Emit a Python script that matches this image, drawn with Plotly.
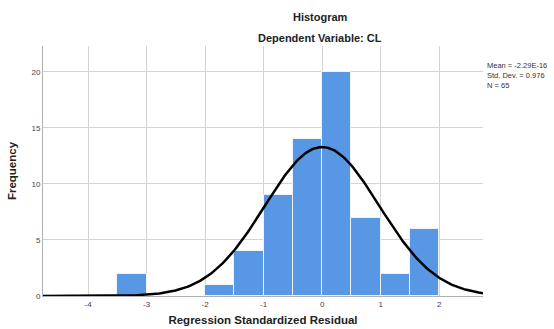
import numpy as np
import plotly.graph_objects as go

# Histogram bins (lower edges) and frequencies
bin_lefts = [-3.5, -2.0, -1.5, -1.0, -0.5, 0.0, 0.5, 1.0, 1.5]
freqs = [2, 1, 4, 9, 14, 20, 7, 2, 6]
bin_width = 0.5

# Summary statistics shown on the chart
mean = -2.29e-16
std = 0.976
n = 65

x_ticks = [-4, -3, -2, -1, 0, 1, 2]
y_ticks = [0, 5, 10, 15, 20]

centers = [b + bin_width / 2 for b in bin_lefts]

# Normal curve overlay scaled to counts (as drawn by SPSS)
xs = np.linspace(-4.77, 2.75, 300)
ys = n * bin_width * np.exp(-0.5 * ((xs - mean) / std) ** 2) / (std * np.sqrt(2 * np.pi))

fig = go.Figure()
fig.add_trace(go.Bar(
    x=centers, y=freqs, width=bin_width,
    marker=dict(color="#5897e4", line=dict(color="#eef3fb", width=1)),
    hoverinfo="skip",
))
fig.add_trace(go.Scatter(
    x=xs, y=ys, mode="lines",
    line=dict(color="black", width=2.5),
    hoverinfo="skip",
))

font = "Liberation Sans, Arial, sans-serif"
fig.update_layout(
    width=554, height=329,
    margin=dict(l=43, r=71, t=46, b=33, autoexpand=False),
    paper_bgcolor="white", plot_bgcolor="white",
    showlegend=False,
    bargap=0,
    font=dict(family=font, color="#333333"),
    xaxis=dict(
        range=[-4.77, 2.75], tickvals=x_ticks, ticktext=[str(v) for v in x_ticks],
        showgrid=True, gridcolor="#d3d3d3", gridwidth=1, automargin=False,
        zeroline=False, showline=True, linecolor="#b0b0b0", linewidth=1,
        ticks="", tickfont=dict(size=8, color="#444444"),
        title=dict(text="<b>Regression Standardized Residual</b>",
                   font=dict(size=11.5, color="#222222"), standoff=8),
    ),
    yaxis=dict(
        range=[0, 22.3], tickvals=y_ticks,
        showgrid=True, gridcolor="#d3d3d3", gridwidth=1, automargin=False,
        zeroline=False, showline=True, linecolor="#b0b0b0", linewidth=1,
        ticks="", tickfont=dict(size=8, color="#444444"),
        title=dict(text="<b>Frequency</b>", font=dict(size=11.5, color="#222222"), standoff=12),
    ),
    annotations=[
        dict(text="<b>Histogram</b>", xref="paper", yref="paper",
             x=(320 - 43) / 440, y=(296 - 17) / 250, xanchor="center", yanchor="middle",
             showarrow=False, font=dict(size=11, color="#222222")),
        dict(text="<b>Dependent Variable: CL</b>", xref="paper", yref="paper",
             x=(320 - 43) / 440, y=(296 - 38) / 250, xanchor="center", yanchor="middle",
             showarrow=False, font=dict(size=11, color="#222222")),
        dict(text="Mean = -2.29E-16<br>Std. Dev. = 0.976<br>N = 65",
             xref="paper", yref="paper", x=1.004, y=(296 - 59) / 250,
             xanchor="left", yanchor="top", align="left", showarrow=False,
             font=dict(size=7.5, color="#333333")),
    ],
)

fig.write_html("out.html", config={"displayModeBar": False},
               post_script="document.body.style.margin='0px';document.body.style.overflow='hidden';")
